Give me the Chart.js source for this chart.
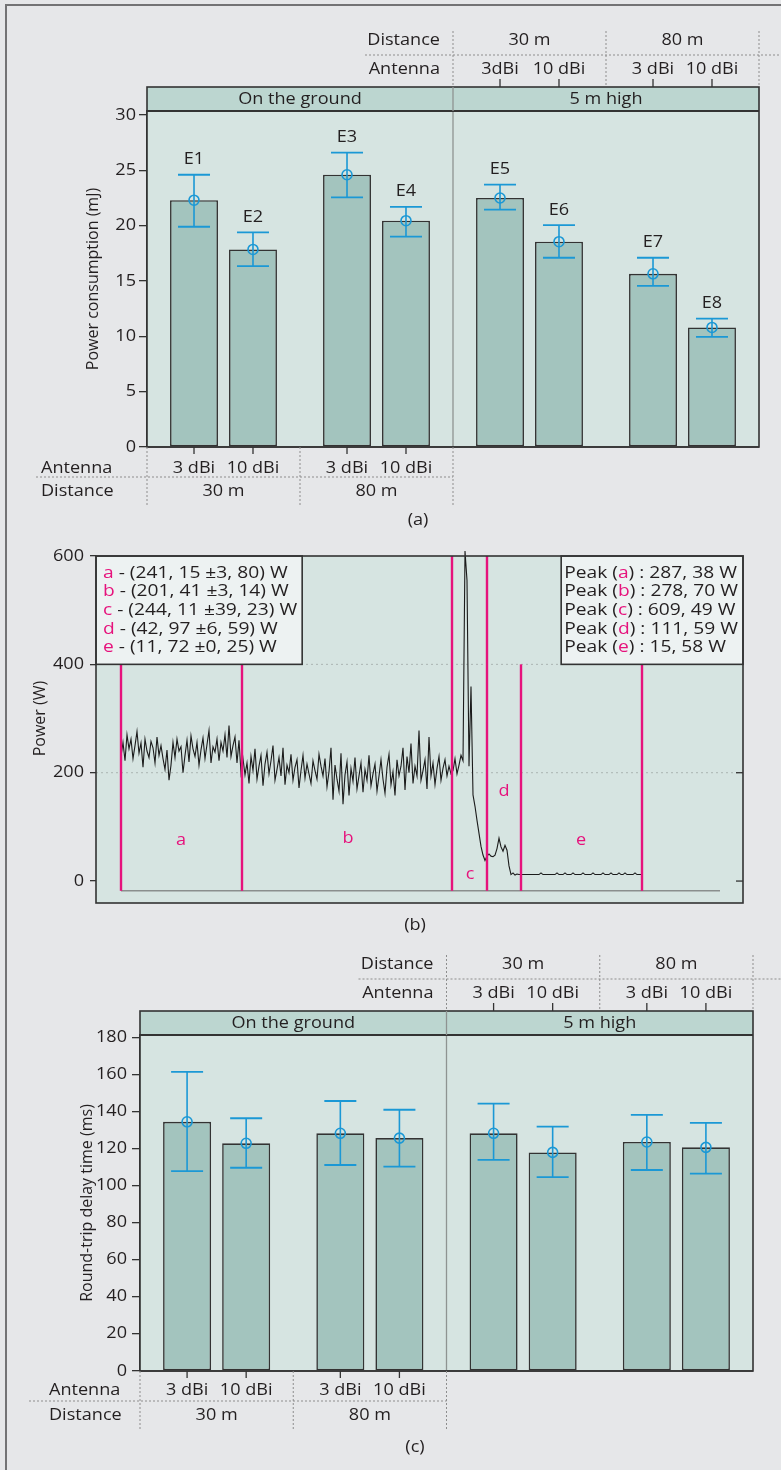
<!DOCTYPE html>
<html>
<head>
<meta charset="utf-8">
<title>Power consumption, power trace and round-trip delay</title>
<script src="https://cdn.jsdelivr.net/npm/chart.js@4.4.1/dist/chart.umd.min.js"></script>
<style>
  html, body { margin: 0; padding: 0; background: #e6e7e9; }
  #page { position: relative; width: 781px; height: 1470px; overflow: hidden; }
  #frame { position: absolute; left: 5px; top: 4px; right: -10px; bottom: -10px;
           border-left: 2px solid #737375; border-top: 2px solid #737375; }
  canvas { position: absolute; left: 0; }
</style>
</head>
<body>
<div id="page">
  <div id="frame"></div>
  <canvas id="energy-chart" width="781" height="535" style="top:0"></canvas>
  <canvas id="power-chart" width="781" height="410" style="top:530px"></canvas>
  <canvas id="delay-chart" width="781" height="530" style="top:940px"></canvas>
</div>
<script>
// ---- data: panels (a) and (c), 4 groups x 2 antennas
const groups = ['ground 30 m', 'ground 80 m', 'high 30 m', 'high 80 m'];
const positionNames = ['On the ground', '5 m high'];
const distanceNames = ['30 m', '80 m'];
const antennaNames = ['3 dBi', '10 dBi'];
const antennaNamesTopA = ['3dBi', '10 dBi', '3 dBi', '10 dBi'];

const energy3dBi = [22.3, 24.6, 22.5, 15.65];
const energy3dBiHi = [24.6, 26.6, 23.7, 17.1];
const energy3dBiLo = [19.9, 22.55, 21.45, 14.55];
const energy10dBi = [17.85, 20.45, 18.55, 10.8];
const energy10dBiHi = [19.4, 21.7, 20.05, 11.6];
const energy10dBiLo = [16.35, 19.0, 17.1, 9.95];
const expNames3dBi = ['E1', 'E3', 'E5', 'E7'];
const expNames10dBi = ['E2', 'E4', 'E6', 'E8'];
const energyTicks = [0, 5, 10, 15, 20, 25, 30];

const delay3dBi = [134.4, 128.2, 128.2, 123.5];
const delay3dBiHi = [161.3, 145.6, 144.2, 138.1];
const delay3dBiLo = [107.8, 111.1, 113.9, 108.4];
const delay10dBi = [122.8, 125.6, 117.9, 120.6];
const delay10dBiHi = [136.3, 140.9, 131.8, 133.8];
const delay10dBiLo = [109.6, 110.2, 104.6, 106.4];
const delayTicks = [0, 20, 40, 60, 80, 100, 120, 140, 160, 180];

// ---- data: panel (b), power trace in W, one sample every 2 time units
const sampleStep = 2;
const segStarts = [0, 122, 332, 368, 402];
const powerA = [
  230, 256, 222, 270, 244, 262, 226, 250, 276, 236,
  255, 210, 262, 240, 228, 258, 246, 218, 266, 232,
  250, 226, 206, 242, 186, 214, 256, 228, 262, 240,
  248, 200, 232, 260, 220, 268, 244, 230, 256, 214,
  242, 264, 226, 252, 278, 218, 248, 238, 262, 222,
  256, 240, 270, 228, 287, 230, 250, 266, 218, 260,
  200,
];
const powerB = [
  226, 196, 218, 180, 230, 204, 244, 188, 212, 232,
  176, 216, 238, 198, 222, 250, 186, 206, 228, 194,
  246, 178, 214, 200, 234, 186, 210, 224, 172, 204,
  232, 190, 216, 198, 180, 222, 204, 188, 234, 212,
  194, 226, 174, 202, 246, 150, 214, 188, 166, 236,
  142, 196, 220, 158, 208, 184, 228, 170, 194, 218,
  164, 206, 186, 232, 176, 198, 216, 166, 194, 224,
  188, 162, 210, 234, 178, 202, 158, 224, 194, 212,
  246, 168, 230, 200, 254, 180, 212, 194, 278, 186,
  204, 224, 170, 266, 194, 218, 178, 208, 230, 186,
  208, 224, 194, 212, 198,
];
const powerC = [204, 226, 198, 214, 232, 222, 609, 555, 212, 359, 159, 138, 112, 88, 64, 48, 38, 46];
const powerD = [50, 46, 45, 48, 60, 79, 63, 55, 66, 57, 28, 12, 15, 11, 13, 12, 12];
const powerE = [
  12, 12, 12, 12, 12, 12, 12, 12, 12, 15, 12, 12, 12, 12, 12, 12, 12, 15, 12, 12,
  12, 15, 12, 12, 12, 15, 12, 12, 12, 12, 15, 12, 12, 12, 12, 15, 12, 12, 12, 12,
  15, 12, 12, 12, 15, 12, 12, 12, 15, 12, 12, 15, 12, 12, 12, 12, 15, 12, 12, 12,
];
const powerTicks = [0, 200, 400, 600];
const segNames = ['a', 'b', 'c', 'd', 'e'];
const segBounds = [0, 121, 331, 366, 400, 521];
const segTops = [400, 400, 600, 600, 400, 400];
const segLabelT = [60, 227, 349, 383, 460];
const segLabelW = [75, 78, 12, 165, 75];
const segStats = ['(241, 15 \u00b13, 80) W', '(201, 41 \u00b13, 14) W', '(244, 11 \u00b139, 23) W',
  '(42, 97 \u00b16, 59) W', '(11, 72 \u00b10, 25) W'];
const segPeaks = ['287, 38 W', '278, 70 W', '609, 49 W', '111, 59 W', '15, 58 W'];
const baseAxis = { from: 0, to: 599, level: -18 };

// ---- style
const FONT_FAMILY = '"Open Sans", "Noto Sans", sans-serif';
const FONT_SIZE = 16;
const LEGEND_SIZE = 17;
const STRETCH = 1.13; // 元画像は横方向に少し伸びている
const INK = '#231f20';
const PLOT_BG = '#d6e4e1';
const BAND_BG = '#bcd6d0';
const BAR_FILL = '#a3c4be';
const FRAME = '#333333';
const DIVIDER = '#8e9391';
const ERR_BLUE = '#1b98d5';
const MAGENTA = '#e6127c';
const DOT = '#8d8d8d';

Chart.defaults.font.family = FONT_FAMILY;
Chart.defaults.font.size = FONT_SIZE;
Chart.defaults.color = INK;

function font(size) { return `${size || FONT_SIZE}px ${FONT_FAMILY}`; }

function stroke(ctx, p, color, width, dash) {
  ctx.save();
  ctx.strokeStyle = color;
  ctx.lineWidth = width;
  ctx.setLineDash(dash || []);
  ctx.beginPath();
  ctx.moveTo(p[0], p[1]);
  ctx.lineTo(p[2], p[3]);
  ctx.stroke();
  ctx.restore();
}

function dotted(ctx, p) { stroke(ctx, p, DOT, 1, [2, 2]); }

function label(ctx, str, x, y, align, color, size) {
  ctx.save();
  ctx.font = font(size);
  ctx.fillStyle = color || INK;
  ctx.textAlign = align || 'center';
  ctx.textBaseline = 'middle';
  ctx.translate(x, y);
  ctx.scale(STRETCH, 1);
  ctx.fillText(str, 0, 0);
  ctx.restore();
}

function vLabel(ctx, str, x, y) {
  ctx.save();
  ctx.font = font();
  ctx.fillStyle = INK;
  ctx.textAlign = 'center';
  ctx.textBaseline = 'middle';
  ctx.translate(x, y);
  ctx.rotate(-Math.PI / 2);
  ctx.fillText(str, 0, 0);
  ctx.restore();
}

// 色付き文字を含む1行を描く
function richLine(ctx, parts, x, y) {
  ctx.save();
  ctx.font = font(LEGEND_SIZE);
  ctx.textBaseline = 'middle';
  ctx.textAlign = 'left';
  ctx.translate(x, y);
  ctx.scale(STRETCH, 1);
  let cx = 0;
  parts.forEach(([s, c]) => {
    ctx.fillStyle = c;
    ctx.fillText(s, cx, 0);
    cx += ctx.measureText(s).width;
  });
  ctx.restore();
}

// ---- panels (a) / (c): background, error bars, header and footer tables
function barPanel(cfg) {
  return {
    id: cfg.id,
    beforeDatasetsDraw(chart) {
      const { ctx, chartArea: a, scales: { x } } = chart;
      const mid = (x.getPixelForValue(1) + x.getPixelForValue(2)) / 2;
      ctx.save();
      ctx.fillStyle = PLOT_BG;
      ctx.fillRect(a.left, a.top, a.width, a.height);
      ctx.restore();
      stroke(ctx, [mid, a.top, mid, a.bottom], DIVIDER, 1.3);
    },
    afterDatasetsDraw(chart) {
      const { ctx, chartArea: a, scales: { x, y } } = chart;
      const mid = (x.getPixelForValue(1) + x.getPixelForValue(2)) / 2;
      const split01 = (x.getPixelForValue(0) + x.getPixelForValue(1)) / 2;
      const split23 = (x.getPixelForValue(2) + x.getPixelForValue(3)) / 2;
      const bars = [chart.getDatasetMeta(0).data, chart.getDatasetMeta(1).data];

      // error bars with mean markers
      bars.forEach((list, d) => {
        list.forEach((bar, i) => {
          const yHi = y.getPixelForValue(cfg.hi[d][i]);
          const yLo = y.getPixelForValue(cfg.lo[d][i]);
          stroke(ctx, [bar.x, yHi, bar.x, yLo], ERR_BLUE, 1.6);
          stroke(ctx, [bar.x - 16, yHi, bar.x + 16, yHi], ERR_BLUE, 1.8);
          stroke(ctx, [bar.x - 16, yLo, bar.x + 16, yLo], ERR_BLUE, 1.8);
          ctx.save();
          ctx.strokeStyle = ERR_BLUE;
          ctx.lineWidth = 1.6;
          ctx.beginPath();
          ctx.arc(bar.x, bar.y, 5, 0, Math.PI * 2);
          ctx.stroke();
          ctx.restore();
          if (cfg.names) label(ctx, cfg.names[d][i], bar.x, yHi - 15);
        });
      });

      // y tick labels
      cfg.ticks.forEach((v) => label(ctx, String(v), a.left - 8 - cfg.tickPad, y.getPixelForValue(v), 'right'));

      // header band
      const band = a.top - 24;
      ctx.save();
      ctx.fillStyle = BAND_BG;
      ctx.fillRect(a.left, band, a.width, 24);
      ctx.strokeStyle = FRAME;
      ctx.lineWidth = 1.6;
      ctx.strokeRect(a.left, band, a.width, a.bottom - band);
      ctx.restore();
      stroke(ctx, [a.left, a.top, a.right, a.top], FRAME, 2);
      stroke(ctx, [a.left, a.bottom, a.right, a.bottom], FRAME, 1.6);
      stroke(ctx, [mid, band, mid, a.top], DIVIDER, 1.3);
      label(ctx, positionNames[0], (a.left + mid) / 2, band + 12);
      label(ctx, positionNames[1], (mid + a.right) / 2, band + 12);

      // table above (5 m high)
      [mid, split23, a.right].forEach((px) => dotted(ctx, [px, a.top - 80, px, band]));
      dotted(ctx, [mid - 88, a.top - 56, chart.width, a.top - 56]);
      label(ctx, 'Distance', mid - 13, a.top - 71, 'right');
      label(ctx, 'Antenna', mid - 13, a.top - 42, 'right');
      [2, 3].forEach((g, k) => {
        label(ctx, distanceNames[k], x.getPixelForValue(g), a.top - 71);
        bars.forEach((list, d) => {
          const bx = list[g].x;
          stroke(ctx, [bx, band - 8, bx, band], FRAME, 1.3);
          label(ctx, cfg.topAntenna[k * 2 + d], bx, a.top - 42);
        });
      });

      // table below (on the ground)
      [a.left, split01, mid].forEach((px) => dotted(ctx, [px, a.bottom, px, a.bottom + 59]));
      dotted(ctx, [cfg.dotFrom, a.bottom + 30, mid, a.bottom + 30]);
      label(ctx, 'Antenna', cfg.rowLabelX, a.bottom + cfg.antennaRow, 'left');
      label(ctx, 'Distance', cfg.rowLabelX, a.bottom + 44, 'left');
      [0, 1].forEach((g) => {
        label(ctx, distanceNames[g], x.getPixelForValue(g), a.bottom + 44);
        bars.forEach((list, d) => {
          const bx = list[g].x;
          stroke(ctx, [bx, a.bottom, bx, a.bottom + 7], FRAME, 1.3);
          label(ctx, antennaNames[d], bx, a.bottom + cfg.antennaRow);
        });
      });

      label(ctx, cfg.caption, cfg.captionX, a.bottom + cfg.captionDy);
    },
  };
}

function groupedBarChart(id, cfg) {
  return new Chart(document.getElementById(id), {
    type: 'bar',
    data: {
      labels: groups,
      datasets: [0, 1].map((d) => ({
        data: cfg.values[d],
        backgroundColor: BAR_FILL,
        borderColor: FRAME,
        borderWidth: 1.6,
        borderSkipped: false,
        categoryPercentage: 0.771,
        barPercentage: 0.813,
      })),
    },
    options: {
      responsive: false,
      animation: false,
      events: [],
      layout: { padding: cfg.padding },
      plugins: { legend: { display: false }, tooltip: { enabled: false } },
      scales: {
        x: { display: false },
        y: {
          min: 0,
          max: cfg.max,
          afterBuildTicks: (s) => { s.ticks = cfg.ticks.map((v) => ({ value: v })); },
          afterFit: (s) => { s.width = cfg.axisWidth; },
          grid: { drawOnChartArea: false, tickLength: 8, color: FRAME, lineWidth: 1.3 },
          border: { color: FRAME, width: 1.6 },
          ticks: { display: false },
          title: { display: true, text: cfg.title, color: INK },
        },
      },
    },
    plugins: [barPanel(cfg)],
  });
}

// (a) 消費電力
groupedBarChart('energy-chart', {
  id: 'energyPanel',
  values: [energy3dBi, energy10dBi],
  hi: [energy3dBiHi, energy10dBiHi],
  lo: [energy3dBiLo, energy10dBiLo],
  names: [expNames3dBi, expNames10dBi],
  ticks: energyTicks,
  max: 30.36,
  title: 'Power consumption (mJ)',
  padding: { top: 111, left: 80, right: 22, bottom: 88 },
  axisWidth: 67,
  tickPad: 3,
  topAntenna: antennaNamesTopA,
  dotFrom: 36,
  rowLabelX: 41,
  antennaRow: 21,
  caption: '(a)',
  captionX: 418,
  captionDy: 73,
});

// (c) 往復遅延
groupedBarChart('delay-chart', {
  id: 'delayPanel',
  values: [delay3dBi, delay10dBi],
  hi: [delay3dBiHi, delay10dBiHi],
  lo: [delay3dBiLo, delay10dBiLo],
  names: null,
  ticks: delayTicks,
  max: 181.2,
  title: 'Round-trip delay time (ms)',
  padding: { top: 95, left: 74, right: 28, bottom: 99 },
  axisWidth: 66,
  tickPad: 5,
  topAntenna: ['3 dBi', '10 dBi', '3 dBi', '10 dBi'],
  dotFrom: 29,
  rowLabelX: 49,
  antennaRow: 19,
  caption: '(c)',
  captionX: 415,
  captionDy: 76,
});

// ---- panel (b): power trace
const tracePoints = [];
[powerA, powerB, powerC, powerD, powerE].forEach((seg, k) => {
  seg.forEach((w, i) => tracePoints.push({ x: segStarts[k] + i * sampleStep, y: w }));
});

const tracePanel = {
  id: 'tracePanel',
  beforeDatasetsDraw(chart) {
    const { ctx, chartArea: a, scales: { y } } = chart;
    ctx.save();
    ctx.fillStyle = PLOT_BG;
    ctx.fillRect(a.left, a.top, a.width, a.height);
    ctx.restore();
    [200, 400].forEach((v) => {
      const py = y.getPixelForValue(v);
      stroke(ctx, [a.left, py, a.right, py], '#aab4b2', 1, [2, 3]);
    });
  },
  afterDatasetsDraw(chart) {
    const { ctx, chartArea: a, scales: { x, y } } = chart;
    const yBase = y.getPixelForValue(baseAxis.level);
    stroke(ctx, [x.getPixelForValue(baseAxis.from), yBase, x.getPixelForValue(baseAxis.to), yBase], '#8a8e8d', 1.5);
    segBounds.forEach((t, i) => {
      const px = x.getPixelForValue(t);
      stroke(ctx, [px, yBase, px, y.getPixelForValue(segTops[i])], MAGENTA, 2.4);
    });
    segNames.forEach((n, i) => label(ctx, n, x.getPixelForValue(segLabelT[i]), y.getPixelForValue(segLabelW[i]), 'center', MAGENTA));

    // 凡例ボックス
    ctx.save();
    ctx.font = font(LEGEND_SIZE);
    const leftRows = segNames.map((n, i) => [[n, MAGENTA], [' - ' + segStats[i], INK]]);
    const rightRows = segNames.map((n, i) => [['Peak (', INK], [n, MAGENTA], [') : ' + segPeaks[i], INK]]);
    const rowWidth = (parts) => STRETCH * parts.reduce((s, [t]) => s + ctx.measureText(t).width, 0);
    const leftW = Math.max(...leftRows.map(rowWidth)) + 12;
    const rightW = Math.max(...rightRows.map(rowWidth)) + 8;
    const boxBottom = y.getPixelForValue(400);
    ctx.fillStyle = '#edf2f2';
    ctx.strokeStyle = FRAME;
    ctx.lineWidth = 1.6;
    ctx.fillRect(a.left, a.top, leftW, boxBottom - a.top);
    ctx.strokeRect(a.left, a.top, leftW, boxBottom - a.top);
    ctx.fillRect(a.right - rightW, a.top, rightW, boxBottom - a.top);
    ctx.strokeRect(a.right - rightW, a.top, rightW, boxBottom - a.top);
    ctx.restore();
    leftRows.forEach((parts, i) => richLine(ctx, parts, a.left + 7, a.top + 17 + i * 18.6));
    rightRows.forEach((parts, i) => richLine(ctx, parts, a.right - rightW + 3, a.top + 17 + i * 18.6));

    // 枠と目盛り
    ctx.save();
    ctx.strokeStyle = FRAME;
    ctx.lineWidth = 1.6;
    ctx.strokeRect(a.left, a.top, a.width, a.height);
    ctx.restore();
    [0, 200].forEach((v) => {
      const py = y.getPixelForValue(v);
      stroke(ctx, [a.right - 7, py, a.right, py], FRAME, 1.3);
    });
    powerTicks.forEach((v) => label(ctx, String(v), a.left - 12, y.getPixelForValue(v), 'right'));
    vLabel(ctx, 'Power (W)', 40, y.getPixelForValue(300));
    label(ctx, '(b)', 415, a.bottom + 22);
  },
};

new Chart(document.getElementById('power-chart'), {
  type: 'line',
  data: {
    datasets: [{
      data: tracePoints,
      borderColor: '#1b1b1b',
      borderWidth: 1.1,
      pointRadius: 0,
      tension: 0,
      clip: false,
    }],
  },
  options: {
    responsive: false,
    animation: false,
    events: [],
    layout: { padding: { top: 26, left: 26, right: 38, bottom: 37 } },
    plugins: { legend: { display: false }, tooltip: { enabled: false } },
    scales: {
      x: { type: 'linear', min: -25, max: 622, display: false },
      y: {
        min: -40.5,
        max: 600,
        afterBuildTicks: (s) => { s.ticks = powerTicks.map((v) => ({ value: v })); },
        afterFit: (s) => { s.width = 70; },
        grid: { drawOnChartArea: false, tickLength: 6, color: FRAME, lineWidth: 1.3 },
        border: { display: false },
        ticks: { display: false },
        title: { display: false },
      },
    },
  },
  plugins: [tracePanel],
});
</script>
</body>
</html>
